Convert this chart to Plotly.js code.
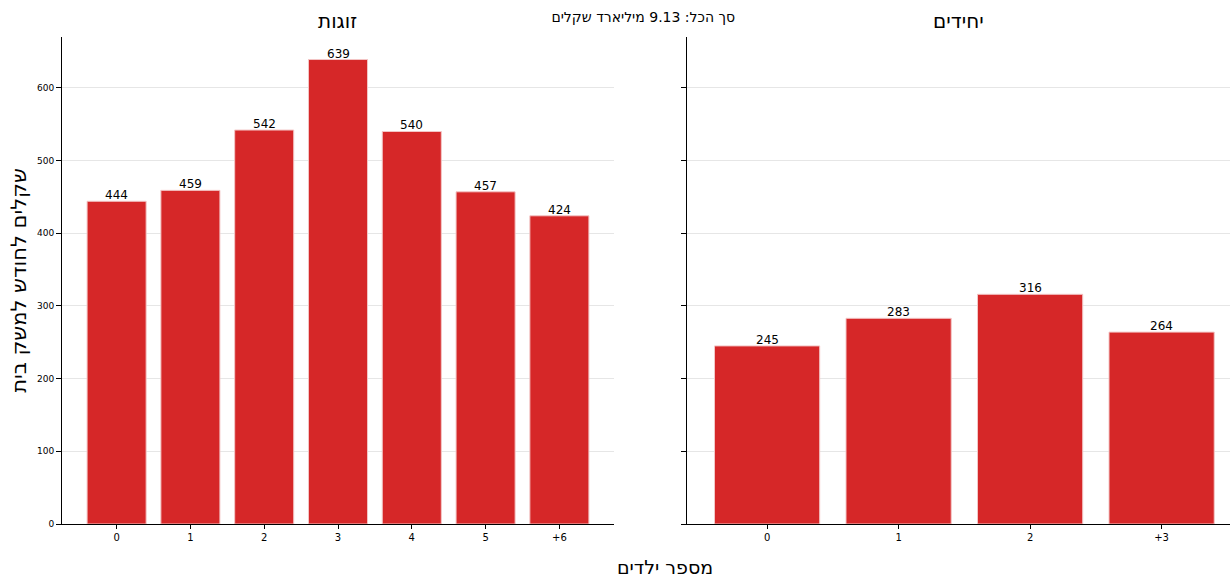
<!DOCTYPE html>
<html>
<head>
<meta charset="utf-8">
<script src="https://cdn.plot.ly/plotly-3.0.1.min.js"></script>
<style>html,body{margin:0;padding:0;background:#fff;}#chart{width:1230px;height:578px;}</style>
</head>
<body>
<div id="chart"></div>
<script>
const couplesCats = ["0", "1", "2", "3", "4", "5", "+6"];
const couplesVals = [444, 459, 542, 639, 540, 457, 424];
const singlesCats = ["0", "1", "2", "+3"];
const singlesVals = [245, 283, 316, 264];
const yTicks = [0, 100, 200, 300, 400, 500, 600];
const titleText = "סך הכל: 9.13 מיליארד שקלים";
const couplesTitle = "זוגות";
const singlesTitle = "יחידים";
const xTitle = "מספר ילדים";
const yTitle = "שקלים לחודש למשק בית";

const red = "#d62728";
const fontFam = "DejaVu Sans, sans-serif";

const traces = [
  {type: "bar", x: couplesCats, y: couplesVals, xaxis: "x", yaxis: "y",
   marker: {color: red, line: {color: "#f3c6c6", width: 1}}, width: 0.8, hoverinfo: "x+y"},
  {type: "bar", x: singlesCats, y: singlesVals, xaxis: "x2", yaxis: "y2",
   marker: {color: red, line: {color: "#f3c6c6", width: 1}}, width: 0.8, hoverinfo: "x+y"}
];

const yCommon = {range: [0, 670], tickvals: yTicks, showgrid: true, gridcolor: "#e6e6e6",
  showline: true, linecolor: "#000", linewidth: 1, ticks: "outside", ticklen: 5, tickcolor: "#000",
  zeroline: false, tickfont: {size: 9, family: fontFam, color: "#000"}};
const xCommon = {type: "category", showline: true, linecolor: "#000", linewidth: 1, ticks: "outside",
  ticklen: 4, tickcolor: "#000", showgrid: false, tickfont: {size: 10, family: fontFam, color: "#000"}};

const valueLabels = [];
couplesCats.forEach((c, i) => valueLabels.push({x: c, y: couplesVals[i], xref: "x", yref: "y",
  text: String(couplesVals[i]), showarrow: false, xanchor: "center", yanchor: "bottom", yshift: -3,
  font: {size: 12, color: "#000"}}));
singlesCats.forEach((c, i) => valueLabels.push({x: c, y: singlesVals[i], xref: "x2", yref: "y2",
  text: String(singlesVals[i]), showarrow: false, xanchor: "center", yanchor: "bottom", yshift: -3,
  font: {size: 12, color: "#000"}}));

const layout = {
  width: 1230, height: 578,
  margin: {l: 62, r: 0, t: 37, b: 54},
  paper_bgcolor: "#fff", plot_bgcolor: "#fff",
  showlegend: false,
  font: {family: fontFam, color: "#000"},
  title: {text: titleText, x: 0.523, xanchor: "center", y: 0.97, yanchor: "middle", font: {size: 14, color: "#000"}},
  xaxis: Object.assign({}, xCommon, {domain: [0, 0.4726], range: [-0.74, 6.74], anchor: "y"}),
  yaxis: Object.assign({}, yCommon, {anchor: "x",
    title: {text: yTitle, font: {size: 21}, standoff: 4}}),
  xaxis2: Object.assign({}, xCommon, {domain: [0.535, 1], range: [-0.61, 3.52], anchor: "y2"}),
  yaxis2: Object.assign({}, yCommon, {anchor: "x2", showticklabels: false}),
  annotations: valueLabels.concat([
    {text: couplesTitle, xref: "paper", yref: "paper", x: 0.236, xanchor: "center", y: 1.0, yanchor: "bottom", yshift: 2,
     showarrow: false, font: {size: 20, color: "#000"}},
    {text: singlesTitle, xref: "paper", yref: "paper", x: 0.7675, xanchor: "center", y: 1.0, yanchor: "bottom", yshift: 2,
     showarrow: false, font: {size: 20, color: "#000"}},
    {text: xTitle, xref: "paper", yref: "paper", x: 0.516, xanchor: "center", y: 0, yanchor: "top", yshift: -30,
     showarrow: false, font: {size: 19, color: "#000"}}
  ])
};

Plotly.newPlot("chart", traces, layout, {displayModeBar: false, staticPlot: true});
</script>
</body>
</html>
